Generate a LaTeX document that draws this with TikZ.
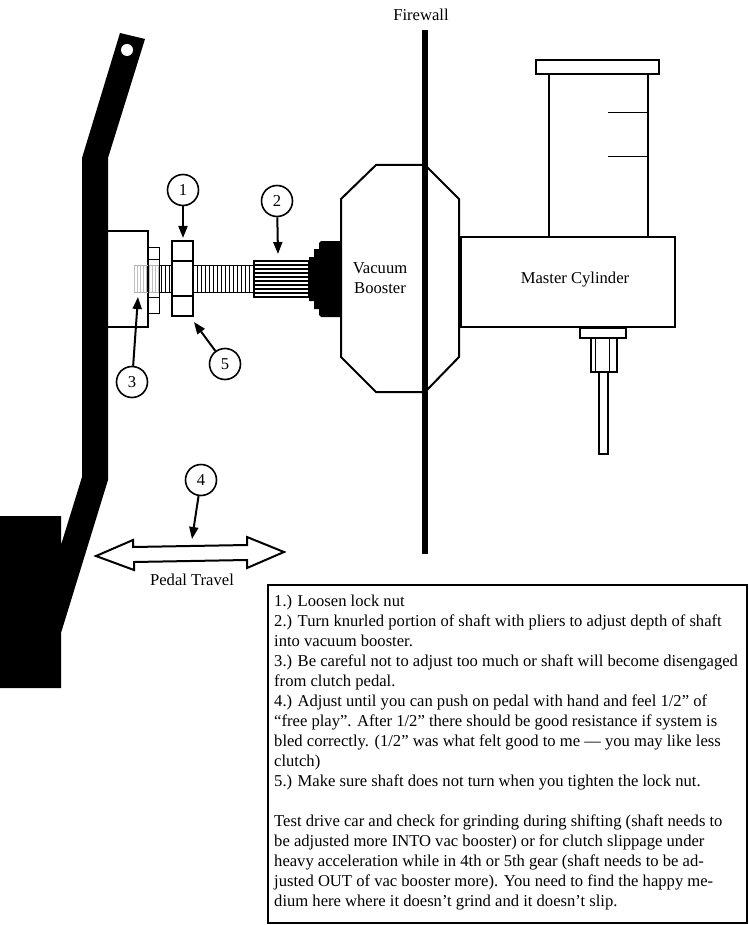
\documentclass[tikz,border=0pt]{standalone}
\usepackage{fontspec}
\setmainfont{Liberation Serif}
\usetikzlibrary{arrows.meta}
\tikzset{
  part/.style={draw,line width=1.8pt,fill=white},
  callout/.style={draw,circle,line width=1.6pt,minimum size=31pt,inner sep=0pt,font=\fontsize{16.6}{18}\selectfont},
  pointer/.style={line width=2pt,-{Triangle[length=12pt,width=9pt]},shorten >=0pt},
  label/.style={font=\fontsize{16.6}{20}\selectfont,align=center,inner sep=0pt}
}
\begin{document}
\begin{tikzpicture}[x=1pt,y=-1pt]
    \useasboundingbox (0,0) rectangle (748,925);

    % Pedal
    \fill (120,33) -- (145,39) -- (108,158) -- (108,480) -- (61,633) -- (61,688) -- (0,688) -- (0,516) -- (61,516) -- (61,545) -- (82,477) -- (82,158) -- cycle;
    \fill[white] (127,50) circle (6);

    % Bracket on pedal
    \draw[line width=1.5pt] (108,231) -- (148,231) -- (148,327) -- (108,327);

    % Threaded shaft
    \foreach \x in {134,137,...,158} \draw[black!25,line width=0.6pt] (\x,265) -- (\x,292);
    \draw[black!30,line width=0.6pt] (134,265) -- (159,265) (134,292) -- (159,292);
    \foreach \x in {161,165,...,253} \draw[line width=0.6pt] (\x,265) -- (\x,292);
    \draw[line width=0.8pt] (159,265) -- (254,265) (159,292) -- (254,292);

    % Washer
    \draw[line width=0.8pt] (148,247) rectangle (159,313);
    \draw[line width=0.8pt] (148,259) -- (159,259) (148,297) -- (159,297);

    % Lock nut
    \draw[part] (172,241) rectangle (193,316);
    \draw[line width=1.5pt] (172,261) -- (194,261) (172,296) -- (193,296);

    % Knurled portion
    \draw[line width=1.5pt,fill=white] (254,261) rectangle (309,297);
    \foreach \y in {265,269,...,293} \draw[line width=1.5pt] (254,\y) -- (309,\y);

    % Boot
    \fill (309,257) -- (314,257) -- (314,249) -- (319,249) -- (319,243) -- (321,241) -- (341,241) -- (341,317) -- (321,317) -- (319,315) -- (319,309) -- (314,309) -- (314,301) -- (309,301) -- cycle;

    % Vacuum booster
    \draw[line width=2pt] (341,199) -- (376,165) -- (425,165) -- (459,199) -- (459,357) -- (425,392) -- (376,392) -- (341,357) -- cycle;
    \node[label] (booster) at (380,278) {Vacuum\\Booster};

    % Firewall
    \fill (422,30) rectangle (428,554);
    \node[label] (firewall) at (421,15) {Firewall};

    % Master cylinder
    \draw[line width=1.2pt] (549,74) rectangle (648,237);
    \draw[line width=1.8pt] (549,74) -- (648,74) (549,237) -- (648,237);
    \draw[line width=1.2pt] (536,60) rectangle (659,74);
    \draw[line width=1pt] (608,113) -- (647,113) (608,157) -- (648,157);
    \draw[line width=1.2pt] (461,237) rectangle (675,327);
    \node[label] (master) at (575,280) {Master Cylinder};

    % Fitting below cylinder
    \draw[line width=1.2pt] (580,328) rectangle (626,338);
    \draw[line width=1.2pt] (591,338) rectangle (617,372);
    \draw[line width=1pt] (595,338) -- (595,372) (609,338) -- (609,372);
    \draw[line width=1.8pt] (599,372) rectangle (608,454);

    % Pedal travel
    \draw[line width=2pt,fill=white] (96,556) -- (133,540) -- (133,547) -- (247,545) -- (247,537) -- (284,552) -- (247,568) -- (247,560) -- (134,562) -- (134,570) -- cycle;
    \node[label] (travel) at (192,580) {Pedal Travel};

    % Callouts
    \node[callout] (one) at (183,190) {1};
    \node[callout] (two) at (277,201) {2};
    \node[callout] (three) at (132,382) {3};
    \node[callout] (four) at (201,480) {4};
    \node[callout] (five) at (225,364) {5};
    \coordinate (nut) at (183,238);
    \coordinate (knurl) at (278,254);
    \coordinate (thread) at (138,297);
    \coordinate (arrow) at (192,539);
    \coordinate (nutcorner) at (194,322);
    \draw[pointer] (one) -- (nut);
    \draw[pointer] (two) -- (knurl);
    \draw[pointer] (three) -- (thread);
    \draw[pointer] (four) -- (arrow);
    \draw[pointer] (five) -- (nutcorner);

    % Instructions
    \draw[line width=2pt] (268,585) rectangle (747,923);
    \node[anchor=north west,align=left,inner sep=0pt,font=\fontsize{16.6}{20}\selectfont] (steps) at (274,595) {%
      1.) Loosen lock nut\\
      2.) Turn knurled portion of shaft with pliers to adjust depth of shaft\\
      into vacuum booster.\\
      3.) Be careful not to adjust too much or shaft will become disengaged\\
      from clutch pedal.\\
      4.) Adjust until you can push on pedal with hand and feel 1/2” of\\
      “free play”. After 1/2” there should be good resistance if system is\\
      bled correctly. (1/2” was what felt good to me — you may like less\\
      clutch)\\
      5.) Make sure shaft does not turn when you tighten the lock nut.\\[20pt]
      Test drive car and check for grinding during shifting (shaft needs to\\
      be adjusted more INTO vac booster) or for clutch slippage under\\
      heavy acceleration while in 4th or 5th gear (shaft needs to be ad-\\
      justed OUT of vac booster more). You need to find the happy me-\\
      dium here where it doesn’t grind and it doesn’t slip.};
\end{tikzpicture}
\end{document}
